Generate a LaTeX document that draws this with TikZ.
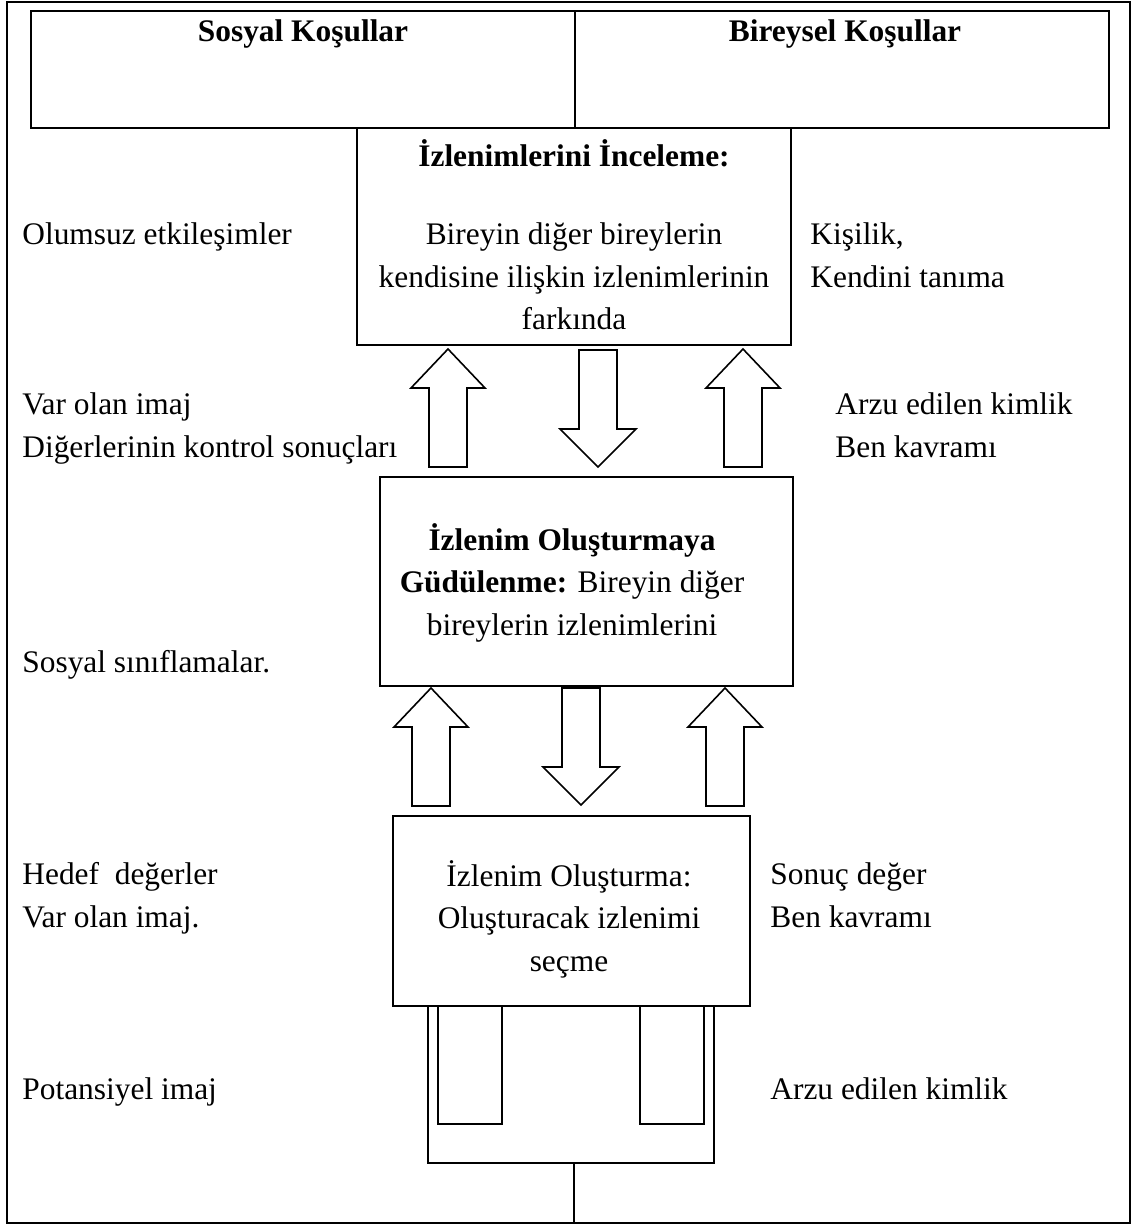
\documentclass[tikz,border=0pt]{standalone}
\usepackage{fontspec}
\setmainfont{Liberation Serif}
\usepackage{tikz}
\usetikzlibrary{calc}

% block arrows: x, start, tip
\newcommand{\blkup}[3]{%
\draw [blkarrow] (#1-19,#2) -- (#1-19,#3+39) -- (#1-37,#3+39) -- (#1,#3)
 -- (#1+37,#3+39) -- (#1+19,#3+39) -- (#1+19,#2) -- cycle;}
\newcommand{\blkdown}[3]{%
\draw [blkarrow] (#1-19,#2) -- (#1-19,#3-38) -- (#1-38,#3-38) -- (#1,#3)
 -- (#1+38,#3-38) -- (#1+19,#3-38) -- (#1+19,#2) -- cycle;}

\tikzset{
  box/.style={draw, line width=1pt, inner sep=0pt},
  blkarrow/.style={line width=0.8pt, line join=miter},
  side/.style={inner sep=0pt, anchor=base west, align=left},
  inbox/.style={inner sep=0pt, align=center}
}

\begin{document}
\begin{tikzpicture}[x=0.5pt, y=-0.5pt, font=\fontsize{15.7}{21.25}\selectfont]
\useasboundingbox (0,0) rectangle (1131,1225);

\draw [line width=1pt] (7,2) rectangle (1130,1223);

% top header
\node [box, minimum width=539pt, minimum height=58.5pt] (top) at (570,69.5) {};
\draw [line width=1pt] (575,11) -- (575,128);
\node [inbox, anchor=base] (soc) at (303,42) {\textbf{Sosyal Koşullar}};
\node [inbox, anchor=base] (ind) at (845,42) {\textbf{Bireysel Koşullar}};

% boxes
\node [box, minimum width=217pt, minimum height=108.5pt] (box1) at (574,236.5) {};
\node [box, minimum width=206.5pt, minimum height=104.5pt] (box2) at (586.5,581.5) {};
\node [box, minimum width=178.5pt, minimum height=95pt] (box3) at (571.5,911) {};

\node [inbox] (t1) at (574,234.5) {\textbf{İzlenimlerini İnceleme:}\\[18pt]
  Bireyin diğer bireylerin\\ kendisine ilişkin izlenimlerinin\\ farkında};
\node [inbox] (t2) at (572,582.5) {\textbf{İzlenim Oluşturmaya}\\
  \textbf{Güdülenme:} Bireyin diğer\\ bireylerin izlenimlerini};
\node [inbox] (t3) at (569,919) {İzlenim Oluşturma:\\ Oluşturacak izlenimi\\ seçme};

% arrows between the boxes
\blkup{448}{467}{349}
\blkdown{598}{350}{467}
\blkup{743}{467}{349}

\blkup{431}{806}{688}
\blkdown{581}{688}{805}
\blkup{725}{806}{688}

% under the last box
\coordinate (ul) at (428,1163);
\coordinate (ur) at (714,1163);
\coordinate (um) at (574,1163);
\draw [line width=0.8pt] (428,1006) -- (ul) -- (ur) -- (714,1006);
\draw [line width=0.8pt] (438,1006) rectangle (502,1124);
\draw [line width=0.8pt] (640,1006) rectangle (704,1124);
\draw [line width=0.8pt] (um) -- (574,1223);

% left side (base = last line)
\node [side] (l1) at (22,244) {Olumsuz etkileşimler};
\node [side] (l2) at (22,457) {Var olan imaj\\ Diğerlerinin kontrol sonuçları};
\node [side] (l3) at (22,672) {Sosyal sınıflamalar.};
\node [side] (l4) at (22,927) {Hedef\ \ değerler\\ Var olan imaj.};
\node [side] (l5) at (22,1099) {Potansiyel imaj};

% right side
\node [side] (r1) at (810,287) {Kişilik,\\ Kendini tanıma};
\node [side] (r2) at (835,457) {Arzu edilen kimlik\\ Ben kavramı};
\node [side] (r3) at (770,927) {Sonuç değer\\ Ben kavramı};
\node [side] (r4) at (770,1099) {Arzu edilen kimlik};

%\draw [red] (box1.south) -- (box2.north);
\end{tikzpicture}
\end{document}
